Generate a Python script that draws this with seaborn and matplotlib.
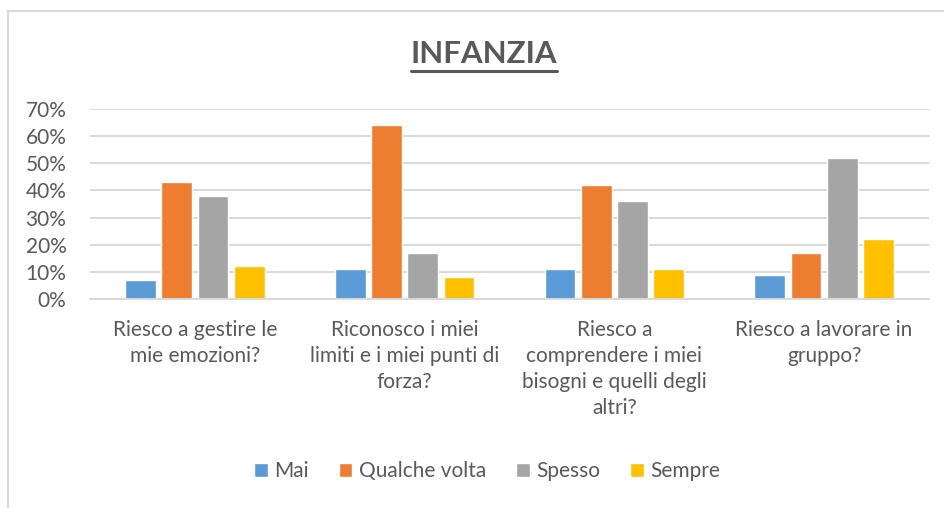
import pandas as pd
import matplotlib.pyplot as plt
import matplotlib.lines as mlines
import seaborn as sns

# --- DATI ---
domande = [
    "Riesco a gestire le mie emozioni?",
    "Riconosco i miei limiti e i miei punti di forza?",
    "Riesco a comprendere i miei bisogni e quelli degli altri?",
    "Riesco a lavorare in gruppo?",
]
etichette = [
    "Riesco a gestire le\nmie emozioni?",
    "Riconosco i miei\nlimiti e i miei punti di\nforza?",
    "Riesco a\ncomprendere i miei\nbisogni e quelli degli\naltri?",
    "Riesco a lavorare in\ngruppo?",
]
risposte = ["Mai", "Qualche volta", "Spesso", "Sempre"]
mai = [0.07, 0.11, 0.11, 0.09]
qualche_volta = [0.43, 0.64, 0.42, 0.17]
spesso = [0.38, 0.17, 0.36, 0.52]
sempre = [0.12, 0.08, 0.11, 0.22]
colori = ["#5B9BD5", "#ED7D31", "#A5A5A5", "#FFC000"]

df = pd.DataFrame({
    "domanda": domande * 4,
    "risposta": [r for r in risposte for _ in domande],
    "valore": mai + qualche_volta + spesso + sempre,
})

sns.set_theme(style="white")
plt.rcParams['font.family'] = ['Lato', 'DejaVu Sans']
GRIGIO = "#595959"

fig = plt.figure(figsize=(9.45, 5.08), dpi=100)
ax = fig.add_axes([90 / 945, 1 - 299 / 508, 839 / 945, 190 / 508])

sns.barplot(data=df, x="domanda", y="valore", hue="risposta", order=domande,
            hue_order=risposte, palette=colori, width=0.69, gap=0.15,
            saturation=1, ax=ax, legend=True)

ax.set_ylim(0, 0.7)
ax.set_yticks([i / 10 for i in range(8)])
ax.set_yticklabels([f"{i * 10}%" for i in range(8)], fontsize=15, color=GRIGIO)
ax.set_xticks(range(len(domande)))
ax.set_xticklabels(etichette, fontsize=15, color=GRIGIO, linespacing=1.38, va="top")
ax.tick_params(axis="x", length=0, pad=15)
ax.tick_params(axis="y", length=0, pad=17)
ax.set_xlabel("")
ax.set_ylabel("")
ax.grid(axis="y", color="#D9D9D9", linewidth=1.4)
ax.set_axisbelow(True)
for lato in ["top", "right", "left"]:
    ax.spines[lato].set_visible(False)
ax.spines["bottom"].set_color("#D9D9D9")
ax.spines["bottom"].set_linewidth(1.4)

# legenda in basso
handles, labels = ax.get_legend_handles_labels()
ax.get_legend().remove()
leg = fig.legend(handles, labels, loc="center", bbox_to_anchor=(487 / 945, 1 - 471 / 508),
                 ncol=4, frameon=False, fontsize=15, handlelength=0.65,
                 handleheight=0.65, handletextpad=0.3, columnspacing=1.45)
for t in leg.get_texts():
    t.set_color(GRIGIO)

# titolo sottolineato
titolo = fig.text(0.512, 1 - 54 / 508, "INFANZIA", ha="center", va="center",
                  fontsize=22.5, fontweight="bold", color=GRIGIO)
fig.canvas.draw()
bb = titolo.get_window_extent().transformed(fig.transFigure.inverted())
y_sotto = 1 - 71 / 508
fig.add_artist(mlines.Line2D([bb.x0, bb.x1], [y_sotto, y_sotto], color=GRIGIO,
                             linewidth=2.2, transform=fig.transFigure))

# cornice del grafico
fig.add_artist(mlines.Line2D([8.5 / 945, 1], [1 - 11 / 508, 1 - 11 / 508],
                             color="#D9D9D9", linewidth=1.5, transform=fig.transFigure))
fig.add_artist(mlines.Line2D([8.5 / 945, 8.5 / 945], [0, 1 - 11 / 508],
                             color="#D9D9D9", linewidth=1.5, transform=fig.transFigure))

fig.savefig("out.png", dpi=100)
